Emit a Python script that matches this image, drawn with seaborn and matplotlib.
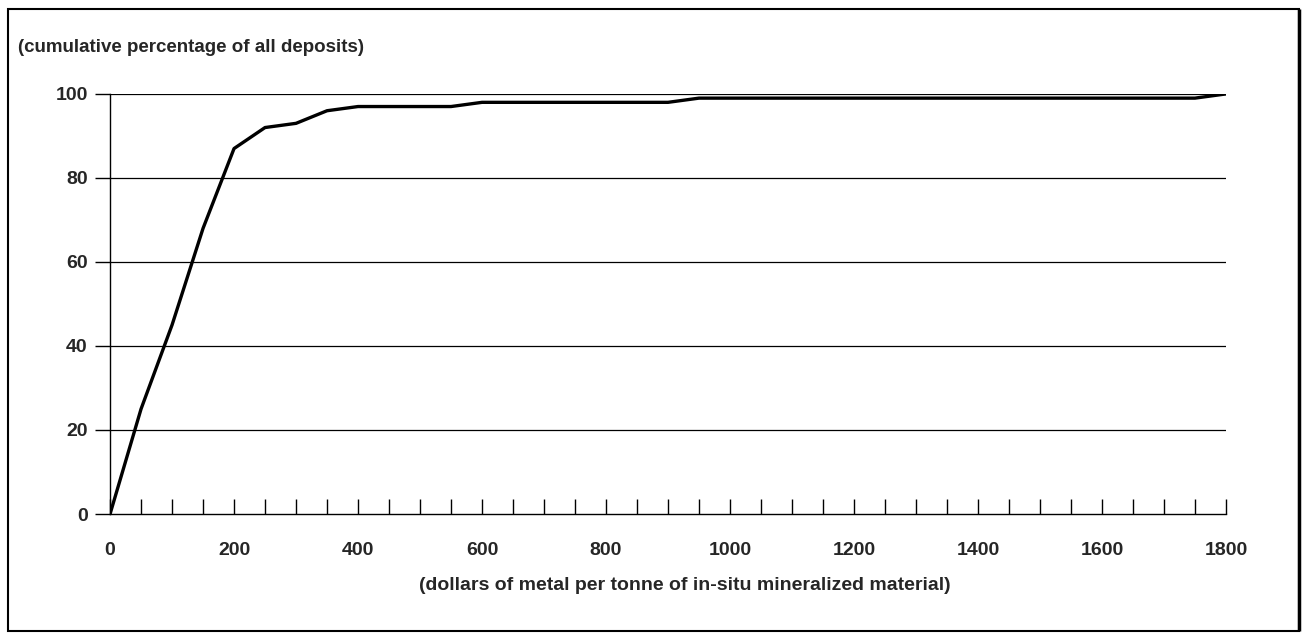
import numpy as np
import pandas as pd
import matplotlib
matplotlib.use("Agg")
import matplotlib.pyplot as plt
import seaborn as sns
from matplotlib.patches import Rectangle
from matplotlib.ticker import MultipleLocator

# dollars of metal per tonne vs cumulative % of deposits
dollars = [0, 50, 100, 150, 200, 250, 300, 350, 400, 450, 500, 550, 600, 650,
           700, 750, 800, 850, 900, 950, 1000, 1050, 1100, 1150, 1200, 1250,
           1300, 1350, 1400, 1450, 1500, 1550, 1600, 1650, 1700, 1750, 1800]
cum_pct = [0, 25, 45, 68, 87, 92, 93, 96, 97, 97, 97, 97, 98, 98,
           98, 98, 98, 98, 98, 99, 99, 99, 99, 99, 99, 99,
           99, 99, 99, 99, 99, 99, 99, 99, 99, 99, 100]
x_labels = [0, 200, 400, 600, 800, 1000, 1200, 1400, 1600, 1800]
y_labels = [0, 20, 40, 60, 80, 100]

df = pd.DataFrame({"dollars": dollars, "pct": cum_pct})

sns.set_style("white")
plt.rcParams["font.family"] = ["Liberation Sans", "DejaVu Sans"]
FS = 14

fig = plt.figure(figsize=(13.07, 6.39), dpi=100)
ax = fig.add_axes([0.0842, 0.1956, 0.8538, 0.6574])

# horizontal rules at each labelled level
for y in y_labels[1:]:
    ax.axhline(y, color="black", lw=0.9, zorder=1)

sns.lineplot(data=df, x="dollars", y="pct", color="black", lw=2.4, ax=ax, zorder=3)

ax.set_xlim(0, 1800)
ax.set_ylim(0, 100)
ax.set_xticks(x_labels)
ax.xaxis.set_minor_locator(MultipleLocator(50))
ax.set_yticks(y_labels)
ax.tick_params(axis="x", which="both", direction="in", length=11, width=1,
               color="black", pad=20, labelsize=FS, bottom=True)
ax.tick_params(axis="y", which="major", direction="out", length=11, width=1,
               color="black", pad=5, labelsize=FS, left=True)
for lab in ax.get_xticklabels() + ax.get_yticklabels():
    lab.set_fontweight("bold")

ax.spines["top"].set_visible(False)
ax.spines["right"].set_visible(False)
for s in ["left", "bottom"]:
    ax.spines[s].set_color("black")
    ax.spines[s].set_linewidth(1)
ax.set_xlabel("")
ax.set_ylabel("")

fig.text(0.0138, 0.925, "(cumulative percentage of all deposits)", fontsize=13.5,
         fontweight="bold", ha="left", va="center")
fig.text(0.524, 0.084, "(dollars of metal per tonne of in-situ mineralized material)",
         fontsize=FS, fontweight="bold", ha="center", va="center")

# frame around the whole figure
fig.patches.append(Rectangle((0.006, 0.012), 0.988, 0.974, transform=fig.transFigure,
                             fill=False, edgecolor="black", lw=1.5))
fig.patches.append(Rectangle((0.994, 0.012), 0.0, 0.974, transform=fig.transFigure,
                             fill=False, edgecolor="black", lw=2.5))

fig.savefig("out.png", dpi=100)
